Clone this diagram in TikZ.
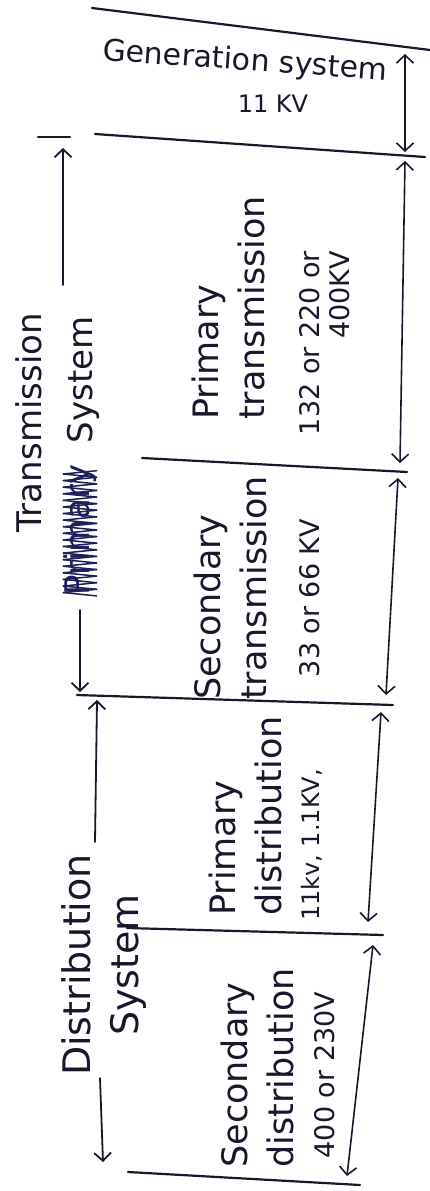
\documentclass[tikz,border=0pt]{standalone}
\usepackage{fontspec}
\setmainfont{DejaVu Sans}
\usetikzlibrary{arrows.meta,calc}
\definecolor{ink}{RGB}{24,24,44}
\definecolor{blueink}{RGB}{30,30,90}

\begin{document}
\begin{tikzpicture}[x=1pt,y=-1pt,>={Straight Barb[length=8pt,width=17pt]},color=ink,line cap=round]
	\tikzset{bound/.style={line width=2.2pt},
		dim/.style={<->,line width=1.6pt},
		side/.style={->,line width=1.8pt},
		stage/.style={rotate=90,align=left,inner sep=0pt,font=\fontsize{35}{46}\selectfont},
		volt/.style={rotate=90,align=right,inner sep=0pt,font=\fontsize{27}{30}\selectfont},
		sysname/.style={rotate=90,inner sep=0pt,font=\fontsize{34}{40}\selectfont}}
	\useasboundingbox (0,0) rectangle (430,1191);
	% stage boundaries
	\coordinate (b1w) at (92,8);    \coordinate (b1e) at (430,50);
	\coordinate (b2w) at (95,134);  \coordinate (b2e) at (425,157);
	\coordinate (b3w) at (142,458); \coordinate (b3e) at (407,472);
	\coordinate (b4w) at (77,695);  \coordinate (b4e) at (393,705);
	\coordinate (b5w) at (127,928); \coordinate (b5e) at (383,935);
	\coordinate (b6w) at (128,1172);\coordinate (b6e) at (360,1185);
	\draw[bound] (b1w) -- (b1e);
	\draw[bound] (b2w) -- (b2e);
	\draw[bound] (b3w) -- (b3e);
	\draw[bound] (b4w) -- (b4e);
	\draw[bound] (b5w) -- (b5e);
	\draw[bound] (b6w) -- (b6e);
	% stage texts
	\node[rotate=-4,inner sep=0pt,font=\fontsize{30}{34}\selectfont] (gen) at (245,62) {Generation system};
	\node[inner sep=0pt,font=\fontsize{24}{28}\selectfont] (genv) at (273,104) {11 KV};
	\node[stage] (ptr) at (228,308) {Primary\\transmission};
	\node[volt] (ptrv) at (325,343) {132 or 220 or\\400KV};
	\node[stage] (str) at (230,588) {Secondary\\transmission};
	\node[volt] (strv) at (310,598) {33 or 66 KV};
	\node[stage] (pdi) at (245,816) {Primary\\distribution};
	\node[volt,font=\fontsize{24}{28}\selectfont] (pdiv) at (312,845) {11kv, 1.1KV,};
	\node[stage] (sdi) at (257,1068) {Secondary\\distribution};
	\node[volt] (sdiv) at (325,1075) {400 or 230V};
	% right hand dimensions
	\coordinate (r1t) at (405,54);  \coordinate (r1b) at (405,152);
	\coordinate (r2t) at (405,161); \coordinate (r2b) at (400,463);
	\coordinate (r3t) at (398,478); \coordinate (r3b) at (386,695);
	\coordinate (r4t) at (381,712); \coordinate (r4b) at (368,922);
	\coordinate (r5t) at (373,945); \coordinate (r5b) at (347,1176);
	\draw[dim] (r1t) -- (r1b);
	\draw[dim] (r2t) -- (r2b);
	\draw[dim] (r3t) -- (r3b);
	\draw[dim] (r4t) -- (r4b);
	\draw[dim] (r5t) -- (r5b);
	% left hand systems
	\node[sysname] (tname) at (29,423) {Transmission};
	\node[sysname] (tsys) at (83,380) {System};
	\node[sysname,text=blueink] (tpri) at (80,530) {Primary};
	\foreach \t [evaluate=\t as \u using \t+0.025,evaluate=\t as \v using \t+0.05] in {0,0.05,...,0.92}{
		\draw[blueink,line width=1.5pt] ($(tpri.south west)!\t!(tpri.south east)$) -- ($(tpri.north west)!\u!(tpri.north east)$);
		\draw[blueink,line width=1.5pt] ($(tpri.north west)!\u!(tpri.north east)$) -- ($(tpri.south west)!\v!(tpri.south east)$);
	}
	\node[rotate=90,align=center,inner sep=0pt,font=\fontsize{38}{48}\selectfont] (dsys) at (104,965) {Distribution\\System};
	\coordinate (tbw) at (38,137);  \coordinate (tbe) at (70,137);
	\coordinate (t1) at (63,285);   \coordinate (t1e) at (63,148);
	\coordinate (t2) at (80,610);   \coordinate (t2e) at (80,692);
	\coordinate (d1) at (95,842);   \coordinate (d1e) at (97,700);
	\coordinate (d2) at (100,1078); \coordinate (d2e) at (103,1162);
	\draw[bound] (tbw) -- (tbe);
	\draw[side] (t1) -- (t1e);
	\draw[side] (t2) -- (t2e);
	\draw[side] (d1) -- (d1e);
	\draw[side] (d2) -- (d2e);
\end{tikzpicture}
\end{document}
